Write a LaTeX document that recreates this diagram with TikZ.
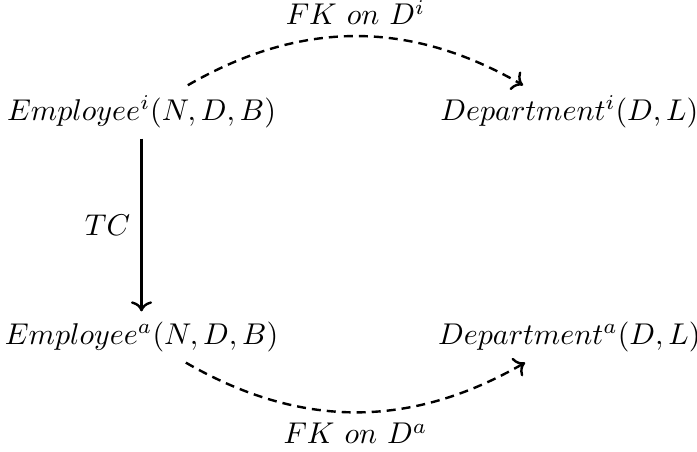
\documentclass[tikz,border=0pt]{standalone}
\usepackage{amsmath}
\usepackage{tikz}
\usetikzlibrary{arrows.meta,positioning}

\begin{document}
\begin{tikzpicture}[
  x=1cm,
  y=1cm,
  rel/.style={inner sep=3.33pt},
  fk/.style={->, thick, densely dashed},
  tc/.style={->, thick}
]
\useasboundingbox (-1.657,1.311) rectangle (6.504,-3.97);
\node[rel] (empI)  at (0.0,  0.0)   {$Employee^i(N,D,B)$};
\node[rel] (depI)  at (5.01, 0.0)   {$Department^i(D,L)$};
\node[rel] (empA)  at (0.0, -2.635) {$Employee^a(N,D,B)$};
\node[rel] (depA)  at (5.01,-2.635) {$Department^a(D,L)$};

\draw[fk] (empI) to[bend left] node[above] (fkI) {$FK~on~D^i$} (depI);
\draw[tc] (empI) -- node[left] (tcl) {$TC$} (empA);
\draw[fk] (empA) to[bend right] node[below] (fkA) {$FK~on~D^a$} (depA);
\end{tikzpicture}
\end{document}
